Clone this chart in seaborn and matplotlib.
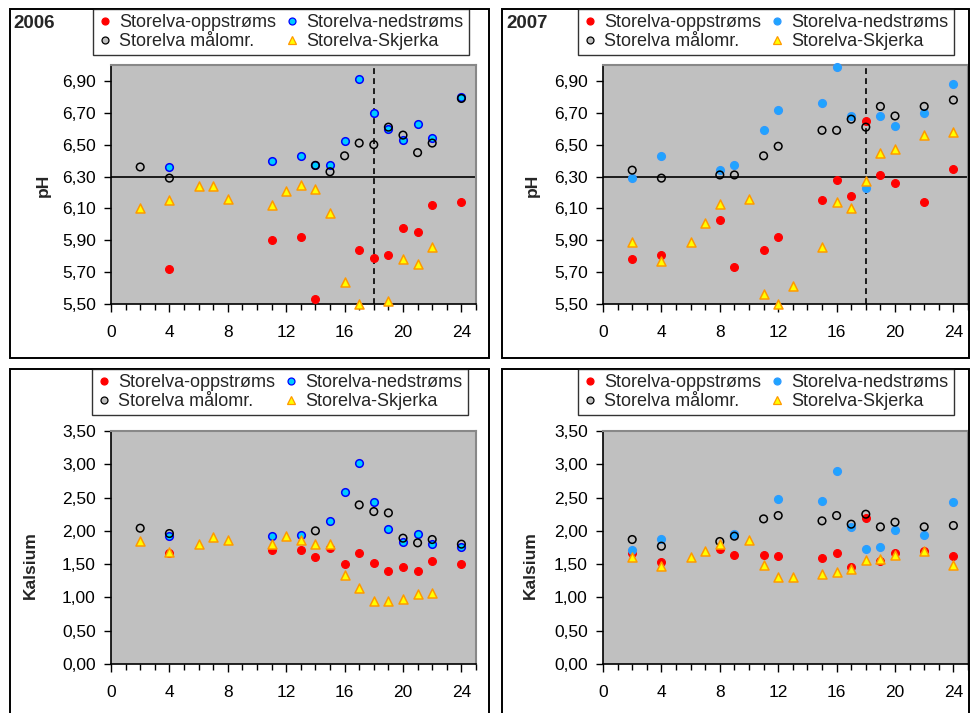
import matplotlib
matplotlib.use("Agg")
import matplotlib.pyplot as plt
from matplotlib.patches import Rectangle
from matplotlib.lines import Line2D
from matplotlib.ticker import MultipleLocator, FuncFormatter
import pandas as pd
import seaborn as sns

sns.set_style("white")
plt.rcParams["font.family"] = ["Liberation Sans", "DejaVu Sans"]

SERIES = ["Storelva-oppstrøms", "Storelva-nedstrøms", "Storelva målomr.", "Storelva-Skjerka"]

# ---- pH 2006 (x = uke) ----
ph06_opp_x = [4, 11, 13, 14, 17, 18, 19, 20, 21, 22, 24]
ph06_opp_y = [5.72, 5.90, 5.92, 5.53, 5.84, 5.79, 5.81, 5.98, 5.95, 6.12, 6.14]
ph06_ned_x = [4, 11, 13, 14, 15, 16, 17, 18, 19, 20, 21, 22, 24]
ph06_ned_y = [6.36, 6.40, 6.43, 6.37, 6.37, 6.52, 6.91, 6.70, 6.60, 6.53, 6.63, 6.54, 6.80]
ph06_mal_x = [2, 4, 14, 15, 16, 17, 18, 19, 20, 21, 22, 24]
ph06_mal_y = [6.36, 6.29, 6.37, 6.33, 6.43, 6.51, 6.50, 6.61, 6.56, 6.45, 6.51, 6.79]
ph06_skj_x = [2, 4, 6, 7, 8, 11, 12, 13, 14, 15, 16, 17, 19, 20, 21, 22]
ph06_skj_y = [6.10, 6.15, 6.24, 6.24, 6.16, 6.12, 6.21, 6.25, 6.22, 6.07, 5.64, 5.50, 5.52, 5.78, 5.75, 5.86]

# ---- pH 2007 ----
ph07_opp_x = [2, 4, 8, 9, 11, 12, 15, 16, 17, 18, 19, 20, 22, 24]
ph07_opp_y = [5.78, 5.81, 6.03, 5.73, 5.84, 5.92, 6.15, 6.28, 6.18, 6.65, 6.31, 6.26, 6.14, 6.35]
ph07_ned_x = [2, 4, 8, 9, 11, 12, 15, 16, 17, 18, 19, 20, 22, 24]
ph07_ned_y = [6.29, 6.43, 6.34, 6.37, 6.59, 6.72, 6.76, 6.99, 6.68, 6.23, 6.68, 6.62, 6.70, 6.88]
ph07_mal_x = [2, 4, 8, 9, 11, 12, 15, 16, 17, 18, 19, 20, 22, 24]
ph07_mal_y = [6.34, 6.29, 6.31, 6.31, 6.43, 6.49, 6.59, 6.59, 6.66, 6.61, 6.74, 6.68, 6.74, 6.78]
ph07_skj_x = [2, 4, 6, 7, 8, 10, 11, 12, 13, 15, 16, 17, 18, 19, 20, 22, 24]
ph07_skj_y = [5.89, 5.77, 5.89, 6.01, 6.13, 6.16, 5.56, 5.50, 5.61, 5.86, 6.14, 6.10, 6.27, 6.45, 6.47, 6.56, 6.58]

# ---- Kalsium 2006 ----
ca06_opp_x = [4, 11, 13, 14, 15, 16, 17, 18, 19, 20, 21, 22, 24]
ca06_opp_y = [1.67, 1.71, 1.71, 1.60, 1.74, 1.50, 1.66, 1.52, 1.40, 1.46, 1.40, 1.55, 1.50]
ca06_ned_x = [4, 11, 13, 15, 16, 17, 18, 19, 20, 21, 22, 24]
ca06_ned_y = [1.92, 1.92, 1.94, 2.15, 2.59, 3.02, 2.43, 2.03, 1.83, 1.96, 1.81, 1.76]
ca06_mal_x = [2, 4, 14, 17, 18, 19, 20, 21, 22, 24]
ca06_mal_y = [2.04, 1.96, 2.00, 2.39, 2.29, 2.27, 1.89, 1.82, 1.87, 1.80]
ca06_skj_x = [2, 4, 6, 7, 8, 11, 12, 13, 14, 15, 16, 17, 18, 19, 20, 21, 22]
ca06_skj_y = [1.85, 1.68, 1.80, 1.91, 1.87, 1.80, 1.92, 1.86, 1.81, 1.80, 1.33, 1.14, 0.95, 0.95, 0.97, 1.05, 1.07]

# ---- Kalsium 2007 ----
ca07_opp_x = [2, 4, 8, 9, 11, 12, 15, 16, 17, 18, 19, 20, 22, 24]
ca07_opp_y = [1.66, 1.53, 1.72, 1.64, 1.64, 1.62, 1.59, 1.66, 1.45, 2.20, 1.54, 1.66, 1.69, 1.62]
ca07_ned_x = [2, 4, 9, 12, 15, 16, 17, 18, 19, 20, 22, 24]
ca07_ned_y = [1.71, 1.88, 1.96, 2.48, 2.45, 2.90, 2.06, 1.73, 1.76, 2.02, 1.94, 2.43]
ca07_mal_x = [2, 4, 8, 9, 11, 12, 15, 16, 17, 18, 19, 20, 22, 24]
ca07_mal_y = [1.87, 1.77, 1.84, 1.92, 2.18, 2.23, 2.15, 2.23, 2.10, 2.25, 2.06, 2.13, 2.06, 2.08]
ca07_skj_x = [2, 4, 6, 7, 8, 10, 11, 12, 13, 15, 16, 17, 18, 19, 20, 22, 24]
ca07_skj_y = [1.61, 1.47, 1.61, 1.69, 1.80, 1.86, 1.49, 1.31, 1.31, 1.35, 1.38, 1.43, 1.56, 1.58, 1.64, 1.70, 1.49]

PH_LIMIT = 6.30
DASH_UKE = 18

W, H = 971, 713
fig = plt.figure(figsize=(W / 100, H / 100), dpi=100)


def fx(px):
    return px / W


def fy(py):
    return 1 - py / H


def comma(v, _pos):
    return f"{v:.2f}".replace(".", ",")


def marker_styles(year):
    if year == 2006:
        ned = dict(facecolor="#00CCFF", edgecolor="#0000FF")
    else:
        ned = dict(facecolor="#1EA5FF", edgecolor="#2E9BFF")
    return {
        SERIES[0]: dict(marker="o", s=32, facecolor="#FF0000", edgecolor="#FF0000", linewidth=0.8),
        SERIES[1]: dict(marker="o", s=30, linewidth=1.1, **ned),
        SERIES[2]: dict(marker="o", s=30, facecolor="none", edgecolor="#000000", linewidth=1.1),
        SERIES[3]: dict(marker="^", s=42, facecolor="#FFFF00", edgecolor="#FF9900", linewidth=1.1),
    }


def panel(rect, series_data, year, ylim, ystep, ylabel, ylabel_xy, is_ph):
    left, top, right, bottom = rect
    ax = fig.add_axes([fx(left), fy(bottom), fx(right - left), (bottom - top) / H])
    ax.set_facecolor("#C0C0C0")
    styles = marker_styles(year)
    for name, (xs, ys) in zip(SERIES, series_data):
        df = pd.DataFrame({"uke": xs, "verdi": ys})
        sns.scatterplot(data=df, x="uke", y="verdi", ax=ax, zorder=3, clip_on=False, **styles[name])
    if is_ph:
        ax.axhline(PH_LIMIT, color="black", lw=1.2, zorder=2)
        ax.axvline(DASH_UKE, color="black", lw=1.2, ls=(0, (3.5, 2.5)), zorder=2)
    ax.set_xlim(0, 25)
    ax.set_ylim(*ylim)
    ax.xaxis.set_major_locator(MultipleLocator(4))
    ax.xaxis.set_minor_locator(MultipleLocator(1))
    n = int(round((ylim[1] - ylim[0]) / ystep))
    yt = [ylim[0] + i * ystep for i in range(n + 1) if ylim[0] + i * ystep <= ylim[1] - 0.05 or not is_ph]
    ax.set_yticks(yt)
    ax.yaxis.set_major_formatter(FuncFormatter(comma))
    ax.set_xlabel("")
    ax.set_ylabel("")
    ax.tick_params(axis="both", which="major", direction="out", color="black", width=1,
                   labelsize=12.5, labelcolor="black")
    ax.tick_params(axis="x", which="major", length=6, pad=9)
    ax.tick_params(axis="x", which="minor", length=4, width=1, color="black", direction="out")
    ax.tick_params(axis="y", which="major", length=5, pad=6)
    ax.tick_params(bottom=True, left=True, which="both")
    for side in ("left", "bottom"):
        ax.spines[side].set_color("black")
        ax.spines[side].set_linewidth(1.2)
    for side in ("top", "right"):
        ax.spines[side].set_color("#888888")
        ax.spines[side].set_linewidth(1.5)
    fig.text(fx(ylabel_xy[0]), fy(ylabel_xy[1]), ylabel, rotation=90, ha="center", va="center",
             fontsize=12.5, fontweight="bold")
    return ax


def frame(l, t, r, b):
    fig.patches.append(Rectangle((fx(l), fy(b)), fx(r - l), (b - t) / H, transform=fig.transFigure,
                                 fill=False, edgecolor="black", linewidth=1.4, zorder=0))


def legend(year, x_left, y_top):
    st = marker_styles(year)
    handles = []
    order = [SERIES[0], SERIES[2], SERIES[1], SERIES[3]]
    for name in order:
        s = st[name]
        fc = s["facecolor"] if s["facecolor"] != "none" else "#C0C0C0"
        handles.append(Line2D([], [], ls="none", marker=s["marker"], markersize=5 if s["marker"] == "o" else 6,
                              markerfacecolor=fc, markeredgecolor=s["edgecolor"], markeredgewidth=0.9))
    leg = fig.legend(handles, order, loc="upper left", bbox_to_anchor=(fx(x_left), fy(y_top)),
                     ncol=2, fontsize=13, frameon=True, fancybox=False, borderaxespad=0,
                     borderpad=0.3, handlelength=0.7, handletextpad=0.45, columnspacing=0.5,
                     labelspacing=0.08)
    leg.get_frame().set_edgecolor("black")
    leg.get_frame().set_linewidth(1.0)
    leg.get_frame().set_facecolor("white")
    return leg


# panel frames
frame(10, 9, 489, 358)
frame(502, 9, 969, 358)
frame(10, 369, 489, 720)
frame(502, 369, 969, 720)

panel((111, 65, 476, 304),
      [(ph06_opp_x, ph06_opp_y), (ph06_ned_x, ph06_ned_y), (ph06_mal_x, ph06_mal_y), (ph06_skj_x, ph06_skj_y)],
      2006, (5.5, 7.0), 0.2, "pH", (43, 185), True)
panel((603, 65, 968, 304),
      [(ph07_opp_x, ph07_opp_y), (ph07_ned_x, ph07_ned_y), (ph07_mal_x, ph07_mal_y), (ph07_skj_x, ph07_skj_y)],
      2007, (5.5, 7.0), 0.2, "pH", (532, 185), True)
panel((111, 431, 476, 664),
      [(ca06_opp_x, ca06_opp_y), (ca06_ned_x, ca06_ned_y), (ca06_mal_x, ca06_mal_y), (ca06_skj_x, ca06_skj_y)],
      2006, (0.0, 3.5), 0.5, "Kalsium", (30, 565), False)
panel((603, 431, 968, 664),
      [(ca07_opp_x, ca07_opp_y), (ca07_ned_x, ca07_ned_y), (ca07_mal_x, ca07_mal_y), (ca07_skj_x, ca07_skj_y)],
      2007, (0.0, 3.5), 0.5, "Kalsium", (530, 565), False)

legend(2006, 93, 9)
legend(2007, 578, 9)
legend(2006, 92, 369)
legend(2007, 578, 369)

fig.text(fx(13), fy(23), "2006", fontsize=13.5, fontweight="bold", ha="left", va="center")
fig.text(fx(506), fy(23), "2007", fontsize=13.5, fontweight="bold", ha="left", va="center")

fig.savefig("out.png", dpi=100)
